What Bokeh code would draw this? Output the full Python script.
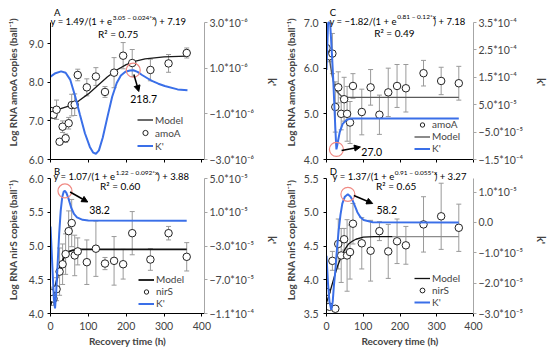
from bokeh.plotting import figure
from bokeh.models import (Range1d, LinearAxis, FixedTicker, PrintfTickFormatter,
                          ColumnDataSource, Whisker, TeeHead, Label, Arrow,
                          NormalHead, Legend, LegendItem)
from bokeh.layouts import row, column
from bokeh.embed import file_html
from bokeh.resources import INLINE

FONT = "Lato"
BLUE = "#3A6FE8"
RED = "#F08A84"
ERRC = "#9a9a9a"

# ---------------- data ----------------
hours = [0, 8, 16, 24, 32, 40, 48, 56, 64, 72, 96, 120, 144, 168, 192, 216, 264, 312, 360]

# Panel A : amoA (first soil)
amoA_1 = [7.26, 7.16, 7.29, 6.46, 6.85, 6.55, 6.94, 7.41, 7.42, 8.19, 7.87, 8.15, 7.75, 8.25, 8.69, 8.50, 8.32, 8.49, 8.76]
amoA_1_err = [0.05, 0.10, 0.25, 0.04, 0.15, 0.11, 0.15, 0.28, 0.28, 0.15, 0.22, 0.23, 0.14, 0.39, 0.34, 0.35, 0.28, 0.23, 0.13]
modelA_t = [0, 25, 50, 75, 100, 125, 150, 175, 200, 225, 250, 300, 360]
modelA_v = [7.26, 7.31, 7.39, 7.52, 7.70, 7.92, 8.14, 8.32, 8.46, 8.55, 8.61, 8.66, 8.68]
kA_t = [0, 13, 28, 40, 52, 65, 78, 91, 104, 113, 120, 128, 138, 151, 163, 175, 186, 198, 210, 219, 230, 242, 255, 268, 285, 302, 336, 362]
kA_e6 = [0.63, 0.78, 0.86, 0.80, 0.50, -0.22, -1.05, -1.85, -2.45, -2.70, -2.75, -2.60, -2.05, -1.10, -0.25, 0.35, 0.68, 0.84, 0.90, 0.91, 0.84, 0.70, 0.57, 0.44, 0.32, 0.22, 0.07, 0.03]

# Panel B : nirS (first soil)
nirS_1 = [4.31, 4.22, 4.36, 4.62, 4.73, 4.88, 5.22, 5.34, 4.86, 4.92, 4.76, 4.96, 4.74, 4.78, 4.73, 5.19, 4.80, 5.19, 4.84]
nirS_1_err = [0.08, 0.10, 0.17, 0.35, 0.30, 0.30, 0.30, 0.35, 0.30, 0.20, 0.33, 0.41, 0.09, 0.36, 0.22, 0.32, 0.16, 0.10, 0.21]
modelB_t = [0, 5, 10, 15, 20, 25, 30, 35, 40, 50, 60, 80, 120, 360]
modelB_v = [4.12, 4.22, 4.34, 4.46, 4.58, 4.68, 4.76, 4.82, 4.87, 4.92, 4.94, 4.95, 4.95, 4.95]
kB_t = [0, 3, 6, 9, 12, 15, 19, 23, 27, 31, 35, 38, 42, 47, 55, 62, 70, 85, 100, 360]
kB_e5 = [-0.7, -3.5, -6.5, -9.3, -10.4, -8.5, -5.0, -1.5, 1.2, 2.8, 3.45, 3.53, 3.3, 2.7, 1.5, 0.8, 0.4, 0.1, 0.03, 0.0]

# Panel C : amoA (second soil)
amoA_2 = [6.44, 6.26, 6.32, 5.15, 5.58, 5.00, 5.32, 5.00, 4.81, 5.61, 5.04, 5.58, 4.98, 5.47, 5.61, 5.56, 5.89, 5.72, 5.67]
amoA_2_err = [0.05, 0.12, 0.44, 0.55, 0.34, 0.35, 0.48, 0.60, 0.46, 0.27, 0.50, 0.39, 0.43, 0.53, 0.47, 0.52, 0.28, 0.30, 0.37]
modelC_t = [0, 5, 10, 15, 20, 25, 30, 40, 50, 60, 80, 360]
modelC_v = [6.62, 6.37, 6.10, 5.85, 5.67, 5.54, 5.47, 5.39, 5.37, 5.36, 5.36, 5.36]
kC_t = [0, 2, 4, 5, 8, 10, 12, 15, 18, 21, 24, 26, 27, 29, 32, 36, 44, 55, 68, 360]
kC_e4 = [1.77, 2.6, 3.4, 3.5, 3.5, 3.45, 3.0, 2.3, 1.5, 0.6, -0.35, -0.9, -1.13, -1.0, -0.78, -0.5, -0.2, -0.05, 0.0, 0.0]

# Panel D : nirS (second soil)
nirS_2 = [3.82, 3.60, 4.28, 3.57, 4.53, 4.36, 4.60, 4.36, 4.41, 4.83, 4.54, 4.43, 4.72, 4.42, 4.57, 4.51, 4.82, 4.94, 4.77]
nirS_2_err = [0.05, 0.03, 0.14, 0.02, 0.37, 0.40, 0.16, 0.53, 0.40, 0.30, 0.38, 0.45, 0.14, 0.40, 0.33, 0.28, 0.41, 0.49, 0.35]
modelD_t = [0, 10, 20, 30, 40, 50, 60, 70, 80, 100, 130, 180]
modelD_v = [3.66, 3.83, 4.02, 4.20, 4.34, 4.45, 4.53, 4.57, 4.60, 4.63, 4.64, 4.64]
modelD_ext_t = [180, 360]
modelD_ext_v = [4.64, 4.64]
kD_t = [0, 4, 8, 13, 17, 20, 24, 28, 33, 38, 43, 50, 58, 65, 71, 78, 84, 92, 101, 126, 360]
kD_e5 = [-1.1, -2.0, -2.6, -2.88, -2.6, -2.1, -1.6, -0.95, -0.27, 0.25, 0.62, 0.85, 0.93, 0.86, 0.73, 0.52, 0.34, 0.18, 0.08, 0.01, 0.0]

# turning points of K' (time, value)
peak_t = [218.7, 38.2, 27.0, 58.2]
peak_k = [0.91e-6, 3.53e-5, -1.13e-4, 0.93e-5]

# axis ranges (left, right k')
yA, kA_r = (6.0, 9.55), (-3e-6, 3e-6)
yB, kB_r = (4.0, 6.0), (-1.1e-4, 5e-5)
yC, kC_r = (4.0, 7.0), (-1.5e-4, 3.5e-4)
yD, kD_r = (3.5, 5.5), (-3e-5, 1.45e-5)

# right-axis ticks
kA_ticks = [-3e-6, -1e-6, 1e-6, 3e-6]
kA_labels = ["\u22123.0*10\u207b\u2076", "\u22121.0*10\u207b\u2076", "1.0*10\u207b\u2076", "3.0*10\u207b\u2076"]
kB_ticks = [-1.1e-4, -7e-5, -3e-5, 1e-5, 5e-5]
kB_labels = ["\u22121.1*10\u207b\u2074", "\u22127.0*10\u207b\u2075", "\u22123.0*10\u207b\u2075", "1.0*10\u207b\u2075", "5.0*10\u207b\u2075"]
kC_ticks = [-1.5e-4, -5e-5, 5e-5, 1.5e-4, 2.5e-4, 3.5e-4]
kC_labels = ["\u22121.5*10\u207b\u2074", "\u22125.0*10\u207b\u2075", "5.0*10\u207b\u2075", "1.5*10\u207b\u2074", "2.5*10\u207b\u2074", "3.5*10\u207b\u2074"]
kD_ticks = [-3e-5, -2e-5, -1e-5, 0.0, 1e-5]
kD_labels = ["\u22123.0*10\u207b\u2075", "\u22122.0*10\u207b\u2075", "\u22121.0*10\u207b\u2075", "0.0", "1.0*10\u207b\u2075"]
x_ticks = [0, 100, 200, 300, 400]


# ---------------- geometry (page px) ----------------
def geom(L, R, T_axis, B, T_frame, x0, x1, yr, kr):
    """frame extends above the top of the axes so that the panel texts can sit there"""
    f = (B - T_frame) / (B - T_axis)
    y_top = yr[0] + (yr[1] - yr[0]) * f
    k_top = kr[0] + (kr[1] - kr[0]) * f
    return dict(L=L, R=R, T=T_frame, B=B, x0=x0, x1=x1, y0=yr[0], y1=y_top,
                yb=yr, k0=kr[0], k1=k_top, kb=kr)


GA = geom(50, 207, 22, 159, 4, 0, 407, yA, kA_r)
GC = geom(319, 475, 22, 159, 4, 0, 400, yC, kC_r)
GB = geom(50, 207, 178, 313, 166, 0, 407, yB, kB_r)
GD = geom(319, 475, 178, 313, 166, 0, 400, yD, kD_r)


def to_data(g, px, py):
    return (g["x0"] + (px - g["L"]) / (g["R"] - g["L"]) * (g["x1"] - g["x0"]),
            g["y0"] + (g["B"] - py) / (g["B"] - g["T"]) * (g["y1"] - g["y0"]))


CW = {" ": 0.2, ".": 0.235, "*": 0.42, "x": 0.5, "\u2212": 0.58, "y": 0.49,
      "=": 0.58, "/": 0.37, "(": 0.31, ")": 0.31, "+": 0.58, "e": 0.53}


def tw(s, size):
    return sum(CW.get(c, 0.58) for c in s) * size


def put(p, g, px, py, text, size="10px", align="left", style="normal"):
    x, y = to_data(g, px, py)
    p.add_layout(Label(x=x, y=y, text=text, text_font=FONT, text_font_size=size,
                       text_align=align, text_baseline="middle", text_font_style=style,
                       text_color="black"))


def equation(p, g, left, ymid, p1, sup, p3):
    xs = left + tw(p1, 9.5)
    put(p, g, xs, ymid, p1, size="9.5px", align="right")
    put(p, g, xs + 0.4, ymid - 4.5, sup, size="6.5px")
    put(p, g, xs + tw(sup, 6.5) + 1.0, ymid, p3, size="9.5px")


def arrow(p, g, a, b):
    x0, y0 = to_data(g, *a)
    x1, y1 = to_data(g, *b)
    p.add_layout(Arrow(x_start=x0, y_start=y0, x_end=x1, y_end=y1, line_width=1.5,
                       line_color="black",
                       end=NormalHead(size=6, fill_color="black", line_color="black", line_width=1)))


def make_panel(g, width, height, mb, ly_ticks, ly_label, kt, kl, bottom_labels,
               lstand, lastand, rstand, rastand):
    p = figure(width=width, height=height, x_range=Range1d(g["x0"], g["x1"]),
               y_range=Range1d(g["y0"], g["y1"]),
               output_backend="svg", toolbar_location=None,
               min_border_left=mb[0], min_border_right=mb[1],
               min_border_top=mb[2], min_border_bottom=mb[3])
    p.outline_line_color = None
    p.xgrid.visible = False
    p.ygrid.visible = False
    p.background_fill_color = "white"
    p.border_fill_color = "white"
    p.extra_y_ranges = {"k": Range1d(g["k0"], g["k1"])}

    ya = p.yaxis[0]
    ya.bounds = g["yb"]
    ya.ticker = FixedTicker(ticks=ly_ticks)
    ya.formatter = PrintfTickFormatter(format="%.1f")
    ya.axis_label = ly_label
    ya.axis_label_text_font = FONT
    ya.axis_label_text_font_style = "bold"
    ya.axis_label_text_font_size = "10px"
    ya.axis_label_standoff = lastand
    ya.major_label_text_font = FONT
    ya.major_label_text_font_size = "10.5px"
    ya.major_label_standoff = lstand
    ya.minor_tick_line_color = None
    ya.major_tick_in = 0
    ya.major_tick_out = 3
    ya.axis_line_color = "black"
    ya.major_tick_line_color = "black"

    xa = p.xaxis[0]
    xa.axis_line_color = "black"
    xa.major_label_text_font = FONT
    if bottom_labels:
        xa.ticker = FixedTicker(ticks=x_ticks)
        xa.minor_tick_line_color = None
        xa.major_tick_in = 0
        xa.major_tick_out = 3
        xa.major_tick_line_color = "black"
        xa.major_label_text_font_size = "10.5px"
        xa.major_label_standoff = 5
        xa.axis_label = "Recovery time (h)"
        xa.axis_label_text_font = FONT
        xa.axis_label_text_font_style = "bold"
        xa.axis_label_text_font_size = "10px"
        xa.axis_label_standoff = 2
    else:
        # tick marks only; the tick labels of the upper panels are hidden by the lower ones
        xa.ticker = FixedTicker(ticks=[], minor_ticks=x_ticks)
        xa.minor_tick_in = 0
        xa.minor_tick_out = 3
        xa.minor_tick_line_color = "black"
        xa.major_label_standoff = 0

    ra = LinearAxis(y_range_name="k", ticker=FixedTicker(ticks=kt),
                    major_label_overrides=dict(zip(kt, kl)), bounds=g["kb"])
    ra.axis_label = "k'"
    ra.axis_label_text_font = FONT
    ra.axis_label_text_font_style = "bold"
    ra.axis_label_text_font_size = "11px"
    ra.axis_label_standoff = rastand
    ra.major_label_text_font = FONT
    ra.major_label_text_font_size = "10.5px"
    ra.major_label_standoff = rstand
    ra.minor_tick_line_color = None
    ra.major_tick_in = 0
    ra.major_tick_out = 3
    ra.axis_line_color = "#a6a6a6"
    ra.major_tick_line_color = "#a6a6a6"
    p.add_layout(ra, "right")
    return p


def add_series(p, vals, errs, mt, mv, kt, kv, model_color, model_width):
    src = ColumnDataSource(dict(t=hours, v=vals,
                                lo=[v - e for v, e in zip(vals, errs)],
                                hi=[v + e for v, e in zip(vals, errs)]))
    p.add_layout(Whisker(source=src, base="t", upper="hi", lower="lo", dimension="height",
                         line_color=ERRC, line_width=1, level="underlay",
                         upper_head=TeeHead(size=5, line_color=ERRC, line_width=1),
                         lower_head=TeeHead(size=5, line_color=ERRC, line_width=1)))
    m = p.line(mt, mv, line_color=model_color, line_width=model_width)
    s = p.scatter("t", "v", source=src, marker="circle", size=7.5, fill_color="white",
                  line_color="#222222", line_width=1)
    k = p.line(kt, kv, y_range_name="k", line_color=BLUE, line_width=2)
    return m, s, k


def add_legend(p, items, loc, rowh):
    leg = Legend(items=[LegendItem(label=l, renderers=[r]) for l, r in items],
                 location=loc, label_text_font=FONT, label_text_font_size="10px",
                 glyph_width=16, glyph_height=rowh, label_height=rowh, spacing=0,
                 padding=0, margin=0, label_standoff=2, border_line_color=None,
                 background_fill_alpha=0)
    p.add_layout(leg)


def mark_peak(p, i, g, a, b, lab):
    p.scatter([peak_t[i]], [peak_k[i]], y_range_name="k", marker="circle", size=14,
              fill_color=None, line_color=RED, line_width=1.2)
    arrow(p, g, a, b)
    put(p, g, lab[0], lab[1], "%.1f" % peak_t[i], size="10.5px", align="center")


# ---------------- panels ----------------
amo_label = "Log RNA amoA copies (ball\u207b\u00b9)"
nir_label = "Log RNA nirS copies (ball\u207b\u00b9)"

pA = make_panel(GA, 281, 166, (50, 74, 4, 7), [6, 7, 8, 9], amo_label,
                kA_ticks, kA_labels, False, 4, 7, 2, 9)
mA, sA, kA = add_series(pA, amoA_1, amoA_1_err, modelA_t, modelA_v, kA_t,
                        [v * 1e-6 for v in kA_e6], "#1a1a1a", 1.3)
add_legend(pA, [("Model", mA), ("amoA", sA), ("K'", kA)], (87, 7), 13)
mark_peak(pA, 0, GA, (135, 74), (140, 91), (145, 98.5))
put(pA, GA, 53.5, 11.5, "A", size="9.5px")
equation(pA, GA, 54, 21, "y = 1.49/(1 + e", "3.05 \u2212 0.024*x", ") + 7.19")
put(pA, GA, 119, 33.5, "R\u00b2 = 0.75", align="center")

pC = make_panel(GC, 269, 166, (38, 75, 4, 7), [4, 5, 6, 7], amo_label,
                kC_ticks, kC_labels, False, 5, 4, 2, 9)
mC, sC, kC = add_series(pC, amoA_2, amoA_2_err, modelC_t, modelC_v, kC_t,
                        [v * 1e-4 for v in kC_e4], "#5a5a5a", 1.4)
add_legend(pC, [("amoA", sC), ("Model", mC), ("K'", kC)], (88, 5), 11)
mark_peak(pC, 2, GC, (335, 150), (355, 146.5), (367, 151))
put(pC, GC, 322.5, 12, "C", size="9.5px")
equation(pC, GC, 329, 20.5, "y = \u22121.82/(1 + e", "0.81 \u2212 0.12*x", ") + 7.18")
put(pC, GC, 391, 32, "R\u00b2 = 0.49", align="center")

pB = make_panel(GB, 281, 184, (50, 74, 0, 37), [4.0, 4.5, 5.0, 5.5, 6.0], nir_label,
                kB_ticks, kB_labels, True, 4, 7, 2, 9)
mB, sB, kB = add_series(pB, nirS_1, nirS_1_err, modelB_t, modelB_v, kB_t,
                        [v * 1e-5 for v in kB_e5], "#111111", 1.8)
add_legend(pB, [("Model", mB), ("nirS", sB), ("K'", kB)], (88, 4), 11)
mark_peak(pB, 1, GB, (70, 191.5), (88, 201.5), (100, 209))
put(pB, GB, 53.5, 170.5, "B", size="9.5px")
equation(pB, GB, 57, 176, "y = 1.07/(1 + e", "1.22 \u2212 0.092*x", ") + 3.88")
put(pB, GB, 121, 185, "R\u00b2 = 0.60", align="center")

pD = make_panel(GD, 269, 184, (38, 75, 0, 37), [3.5, 4.0, 4.5, 5.0, 5.5], nir_label,
                kD_ticks, kD_labels, True, 5, 4, 2, 9)
mD, sD, kD = add_series(pD, nirS_2, nirS_2_err, modelD_t, modelD_v, kD_t,
                        [v * 1e-5 for v in kD_e5], "#111111", 1.3)
pD.line(modelD_ext_t, modelD_ext_v, line_color="#8c8c8c", line_width=1.3)
add_legend(pD, [("Model", mD), ("nirS", sD), ("K'", kD)], (88, 5), 12)
mark_peak(pD, 3, GD, (348, 195), (368, 203), (383, 209))
put(pD, GD, 322.5, 170.5, "D", size="9.5px")
equation(pD, GD, 332, 176, "y = 1.37/(1 + e", "0.91 \u2212 0.055*x", ") + 3.27")
put(pD, GD, 393, 185, "R\u00b2 = 0.65", align="center")

layout = column(row(pA, pC), row(pB, pD))
open("out.html", "w").write(file_html(layout, INLINE))
